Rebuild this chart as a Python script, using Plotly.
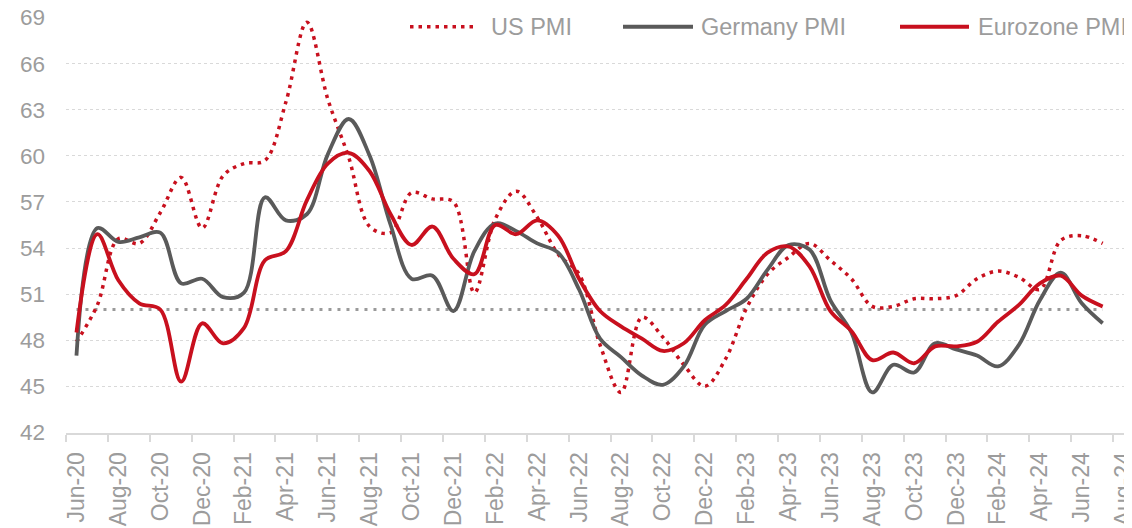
import plotly.graph_objects as go

months = ["Jun-20", "Jul-20", "Aug-20", "Sep-20", "Oct-20", "Nov-20", "Dec-20",
          "Jan-21", "Feb-21", "Mar-21", "Apr-21", "May-21", "Jun-21", "Jul-21",
          "Aug-21", "Sep-21", "Oct-21", "Nov-21", "Dec-21", "Jan-22", "Feb-22",
          "Mar-22", "Apr-22", "May-22", "Jun-22", "Jul-22", "Aug-22", "Sep-22",
          "Oct-22", "Nov-22", "Dec-22", "Jan-23", "Feb-23", "Mar-23", "Apr-23",
          "May-23", "Jun-23", "Jul-23", "Aug-23", "Sep-23", "Oct-23", "Nov-23",
          "Dec-23", "Jan-24", "Feb-24", "Mar-24", "Apr-24", "May-24", "Jun-24",
          "Jul-24"]

us_pmi = [47.9, 50.3, 54.6, 54.3, 56.3, 58.6, 55.3,
          58.7, 59.5, 59.7, 63.5, 68.7, 63.7, 59.9,
          55.4, 55.0, 57.6, 57.2, 57.0, 51.1, 55.9,
          57.7, 56.0, 53.6, 52.3, 47.7, 44.6, 49.5,
          48.2, 46.4, 45.0, 46.8, 50.1, 52.3, 53.4,
          54.3, 53.2, 52.0, 50.2, 50.2, 50.7, 50.7,
          50.9, 52.0, 52.5, 52.1, 51.3, 54.5, 54.8,
          54.3]

germany_pmi = [47.0, 55.3, 54.4, 54.7, 55.0, 51.7, 52.0,
               50.8, 51.1, 57.3, 55.8, 56.2, 60.1, 62.4,
               60.0, 55.5, 52.0, 52.2, 49.9, 53.8, 55.6,
               55.1, 54.3, 53.7, 51.3, 48.1, 46.9, 45.7,
               45.1, 46.3, 49.0, 49.9, 50.7, 52.6, 54.2,
               53.9, 50.6, 48.5, 44.6, 46.4, 45.9, 47.8,
               47.4, 47.0, 46.3, 47.7, 50.6, 52.4, 50.4,
               49.1]

eurozone_pmi = [48.5, 54.9, 51.9, 50.4, 50.0, 45.3, 49.1,
                47.8, 48.8, 53.2, 53.8, 57.1, 59.5, 60.2,
                59.0, 56.2, 54.2, 55.4, 53.3, 52.3, 55.5,
                54.9, 55.8, 54.8, 52.0, 49.9, 48.9, 48.1,
                47.3, 47.8, 49.3, 50.3, 52.0, 53.7, 54.1,
                52.8, 49.9, 48.6, 46.7, 47.2, 46.5, 47.6,
                47.6, 47.9, 49.2, 50.3, 51.7, 52.2, 50.9,
                50.2]

threshold = 50

tick_labels = ["Jun-20", "Aug-20", "Oct-20", "Dec-20", "Feb-21", "Apr-21",
               "Jun-21", "Aug-21", "Oct-21", "Dec-21", "Feb-22", "Apr-22",
               "Jun-22", "Aug-22", "Oct-22", "Dec-22", "Feb-23", "Apr-23",
               "Jun-23", "Aug-23", "Oct-23", "Dec-23", "Feb-24", "Apr-24",
               "Jun-24", "Aug-24"]

y_ticks = [42, 45, 48, 51, 54, 57, 60, 63, 66, 69]

RED = "#C8101E"
DARK = "#5A5A5A"
TXT = "#9C9C9C"
FONT = "Arial, Liberation Sans, sans-serif"

x_idx = list(range(len(months)))
# Aug-24 is the month after the last data month
tick_pos = [months.index(t) if t in months else len(months) for t in tick_labels]
boundaries = [p - 0.5 for p in tick_pos]

# page body has an 8px margin: figure coordinates = screenshot coordinates - 8
OFF = 8
FW, FH = 1132 - OFF, 528 - OFF

# y range padded slightly so the 69 gridline is drawn
Y0, Y1 = 42, 69
PAD = 0.04
PPU = (432 - 18) / (Y1 - Y0)   # pixels per unit

fig = go.Figure()

fig.add_trace(go.Scatter(
    x=[x_idx[0], x_idx[-1]], y=[threshold, threshold], mode="lines",
    line=dict(color="#9A9A9A", width=3.2, dash="3px,6px"),
    showlegend=False, hoverinfo="skip"))

fig.add_trace(go.Scatter(
    x=x_idx, y=us_pmi, mode="lines", name="US PMI",
    line=dict(color=RED, width=3.5, dash="3.5px,5px", shape="spline", smoothing=1.0),
    showlegend=False))

fig.add_trace(go.Scatter(
    x=x_idx, y=germany_pmi, mode="lines", name="Germany PMI",
    line=dict(color=DARK, width=3.8, shape="spline", smoothing=1.0),
    showlegend=False))

fig.add_trace(go.Scatter(
    x=x_idx, y=eurozone_pmi, mode="lines", name="Eurozone PMI",
    line=dict(color=RED, width=3.8, shape="spline", smoothing=1.0),
    showlegend=False))

# plot area in screenshot pixels
L, R = 66, 1132
T = 18 - PAD * PPU
B = 432 + PAD * PPU
W, H = R - L, B - T
def px(xp):
    return (xp - L) / W
def py(yp):
    return (B - yp) / H

legend_items = [
    ("US PMI", RED, "3.5px,5px", 410, 477, 489),
    ("Germany PMI", DARK, "solid", 623, 693, 699),
    ("Eurozone PMI", RED, "solid", 900, 969, 976),
]
for name, col, dash, x0, x1, xt in legend_items:
    fig.add_shape(type="line", xref="paper", yref="paper",
                  x0=px(x0), x1=px(x1), y0=py(27), y1=py(27),
                  line=dict(color=col, width=4 if dash == "solid" else 3.5, dash=dash))
    fig.add_annotation(xref="paper", yref="paper", x=px(xt), y=py(27),
                       text=name, showarrow=False, xanchor="left", yanchor="middle",
                       font=dict(family=FONT, size=23.5, color=TXT))

fig.update_layout(
    width=FW, height=FH,
    margin=dict(l=L - OFF, r=1132 - R, t=T - OFF, b=528 - B, autoexpand=False),
    paper_bgcolor="white", plot_bgcolor="white",
    font=dict(family=FONT, size=22, color=TXT),
    showlegend=False,
)

fig.update_xaxes(
    range=[-0.5, 50.4], automargin=False, ticklabeloverflow="allow",
    tickmode="array", tickvals=tick_pos, ticktext=tick_labels,
    tickangle=-90, ticks="", showgrid=False, zeroline=False,
    showline=True, linecolor="#D9D9D9", linewidth=2,
    tickfont=dict(family=FONT, size=23, color=TXT),
    ticklabelstandoff=8,
    minor=dict(tickmode="array", tickvals=boundaries, ticks="outside",
               ticklen=7, tickwidth=2, tickcolor="#D9D9D9", showgrid=False),
)

fig.update_yaxes(
    range=[Y0 - PAD, Y1 + PAD], tickmode="array", tickvals=y_ticks,
    automargin=False, ticklabeloverflow="allow",
    showgrid=True, gridcolor="#D9D9D9", gridwidth=1, griddash="dot",
    zeroline=False, showline=False, ticks="",
    tickfont=dict(family=FONT, size=22.5, color=TXT),
    ticklabelstandoff=20,
)

fig.write_html("out.html")
